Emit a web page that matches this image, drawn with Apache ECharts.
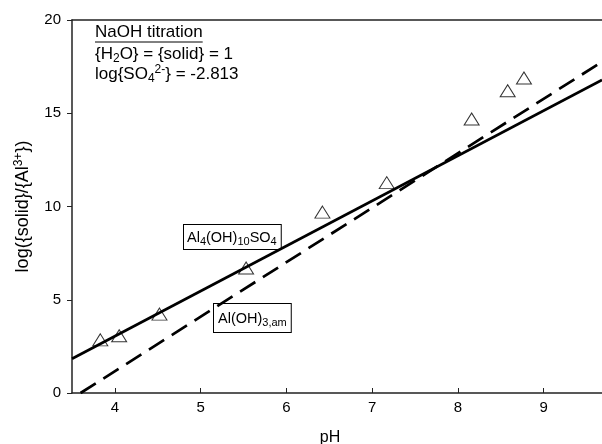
<!DOCTYPE html>
<html>
<head>
<meta charset="utf-8">
<script src="https://cdn.jsdelivr.net/npm/echarts@6/dist/echarts.min.js"></script>
<style>
  html, body { margin: 0; padding: 0; background: #fff; }
  #chart { width: 602px; height: 444px; }
</style>
</head>
<body>
<div id="chart"></div>
<script>
  // measured titration points (pH, log({solid}/{Al3+}))
  var phValues = [3.83, 4.05, 4.52, 5.53, 6.42, 7.17, 8.16, 8.58, 8.77];
  var logValues = [2.85, 3.07, 4.23, 6.70, 9.70, 11.28, 14.69, 16.21, 16.89];
  // model lines, end points
  var basicSulfateLine = [[3.5, 1.84], [9.68, 16.78]];
  var amorphousLine = [[3.6, 0], [9.68, 17.76]];
  var xTicks = [4, 5, 6, 7, 8, 9];

  var FONT = '"Liberation Sans", Arial, sans-serif';
  var mainRich = {
    sub: {fontSize: 12, lineHeight: 12, padding: [9, 0, 0, 0], fontFamily: FONT, color: '#000'},
    sup: {fontSize: 12, lineHeight: 12, padding: [0, 0, 9, 0], fontFamily: FONT, color: '#000'}
  };
  var boxRich = {
    sub: {fontSize: 11, lineHeight: 11, padding: [8, 0, 0, 0], fontFamily: FONT, color: '#000'}
  };

  var points = phValues.map(function (x, i) {
    return [x, logValues[i]];
  });

  // width of the underlined title
  var ctx = document.createElement('canvas').getContext('2d');
  ctx.font = '17px ' + FONT;
  var titleWidth = ctx.measureText('NaOH titration').width;

  let myChart = echarts.init(document.getElementById('chart'));
  myChart.setOption({
    animation: false,
    grid: {
      left: 72,
      right: 0,
      top: 20,
      bottom: 51,
      outerBoundsMode: 'none'
    },
    xAxis: [{
      type: 'value',
      min: 3.5,
      max: 9.68,
      name: 'pH',
      nameLocation: 'middle',
      nameGap: 37,
      nameTextStyle: {fontSize: 16, fontFamily: FONT, color: '#000', padding: [0, 14, 0, 0]},
      axisLine: {lineStyle: {color: '#222', width: 1.5}},
      axisTick: {inside: true, length: 5, customValues: xTicks, lineStyle: {color: '#222'}},
      axisLabel: {customValues: xTicks, fontSize: 15, fontFamily: FONT, color: '#000', margin: 7},
      splitLine: {show: false}
    }, {
      type: 'value',
      position: 'top',
      min: 3.5,
      max: 9.68,
      axisLine: {show: true, lineStyle: {color: '#222', width: 1.5}},
      axisTick: {show: false},
      axisLabel: {show: false},
      splitLine: {show: false}
    }],
    yAxis: {
      type: 'value',
      min: 0,
      max: 20,
      interval: 5,
      name: 'log({solid}/{Al{sup|3+}})',
      nameLocation: 'middle',
      nameGap: 38,
      nameTextStyle: {fontSize: 18, fontFamily: FONT, color: '#000', rich: mainRich},
      axisLine: {show: true, lineStyle: {color: '#222', width: 1.5}},
      axisTick: {show: true, length: 5, lineStyle: {color: '#222'}},
      axisLabel: {fontSize: 15, fontFamily: FONT, color: '#000', margin: 11},
      splitLine: {show: false}
    },
    series: [{
      name: 'Al4(OH)10SO4',
      type: 'line',
      data: basicSulfateLine,
      showSymbol: false,
      lineStyle: {color: '#000', width: 2.7}
    }, {
      name: 'Al(OH)3,am',
      type: 'line',
      data: amorphousLine,
      showSymbol: false,
      lineStyle: {color: '#000', width: 2.7, type: [18, 9]}
    }, {
      name: 'NaOH titration',
      type: 'scatter',
      data: points,
      symbol: 'triangle',
      symbolSize: [15, 12],
      itemStyle: {color: '#fff', borderColor: '#000', borderWidth: 1}
    }],
    graphic: [{
      type: 'text',
      left: 95,
      top: 24,
      style: {text: 'NaOH titration', font: '17px ' + FONT, fill: '#000'}
    }, {
      type: 'line',
      shape: {x1: 95, y1: 42, x2: 95 + titleWidth, y2: 42},
      style: {stroke: '#000', lineWidth: 1}
    }, {
      type: 'text',
      left: 95,
      top: 44,
      style: {text: '{H{sub|2}O} = {solid} = 1', fontSize: 17, fontFamily: FONT, fill: '#000', rich: mainRich}
    }, {
      type: 'text',
      left: 95,
      top: 64,
      style: {text: 'log{SO{sub|4}{sup|2-}} = -2.813', fontSize: 17, fontFamily: FONT, fill: '#000', rich: mainRich}
    }, {
      type: 'text',
      left: 183,
      top: 224,
      style: {
        text: 'Al{sub|4}(OH){sub|10}SO{sub|4} ', fontSize: 14.5, fontFamily: FONT, fill: '#000', rich: boxRich,
        backgroundColor: '#fff', borderColor: '#000', borderWidth: 1, padding: [5, 0, 4, 3]
      }
    }, {
      type: 'text',
      left: 213,
      top: 303,
      style: {
        text: 'Al(OH){sub|3,am}', fontSize: 14.5, fontFamily: FONT, fill: '#000', rich: boxRich,
        backgroundColor: '#fff', borderColor: '#000', borderWidth: 1, padding: [7, 4, 6, 4]
      }
    }]
  });
</script>
</body>
</html>
